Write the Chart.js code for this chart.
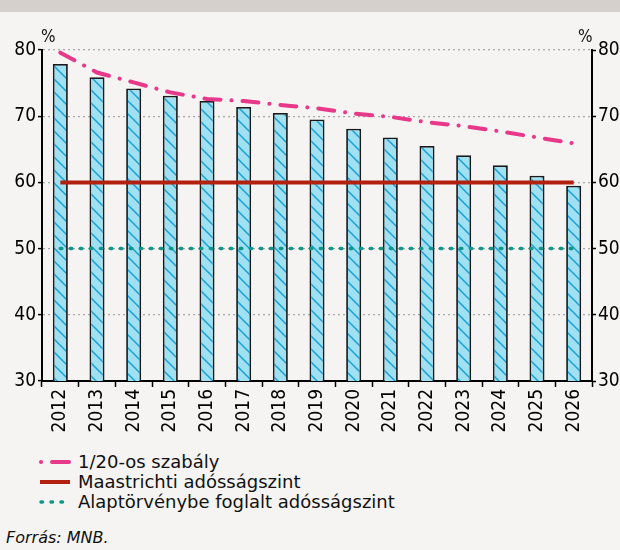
<!DOCTYPE html>
<html>
<head>
<meta charset="utf-8">
<script src="https://cdn.jsdelivr.net/npm/chart.js@4"></script>
<style>
  body { margin: 0; width: 620px; height: 550px; background: #f5f4f2; position: relative; overflow: hidden;
         font-family: "DejaVu Sans", sans-serif; color: #111; }
  #band { position: absolute; left: 0; top: 0; width: 620px; height: 12px; background: #d5d0cb; }
  #wrap { position: absolute; left: 0; top: 12px; width: 620px; height: 433px; }
  .pct { position: absolute; top: 26px; font-size: 17px; font-family: "DejaVu Sans Condensed", sans-serif; }
  #legend { position: absolute; left: 38px; top: 452px; font-size: 18px; }
  #legend div { height: 20px; line-height: 20px; display: flex; align-items: center; }
  #legend svg { margin-right: 6px; }
  #forras { position: absolute; left: 6px; top: 528px; font-size: 16px; font-style: italic; }
</style>
</head>
<body>
<div id="band"></div>
<div id="wrap"><canvas id="grafikon"></canvas></div>
<span class="pct" style="left:41px">%</span>
<span class="pct" style="left:578px">%</span>
<div id="legend">
  <div><svg width="34" height="8"><line x1="3" y1="4" x2="3.1" y2="4" stroke="#e8388a" stroke-width="4" stroke-linecap="round"/><line x1="14" y1="4" x2="31" y2="4" stroke="#e8388a" stroke-width="4" stroke-linecap="round"/></svg>1/20-os szabály</div>
  <div><svg width="34" height="8"><line x1="2" y1="4" x2="32" y2="4" stroke="#b3200f" stroke-width="4"/></svg>Maastrichti adósságszint</div>
  <div><svg width="34" height="8"><line x1="3" y1="4" x2="33" y2="4" stroke="#11968a" stroke-width="3.5" stroke-linecap="round" stroke-dasharray="1.5 8.5"/></svg>Alaptörvénybe foglalt adósságszint</div>
</div>
<div id="forras">Forrás: MNB.</div>

<script>
// adatok
const evek = ["2012", "2013", "2014", "2015", "2016", "2017", "2018", "2019", "2020", "2021", "2022", "2023", "2024", "2025", "2026"];
const adossag = [77.9, 75.9, 74.2, 73.1, 72.3, 71.4, 70.5, 69.5, 68.1, 66.8, 65.5, 64.1, 62.6, 61.0, 59.5];
const szabaly = [79.6, 76.6, 75.1, 73.6, 72.6, 72.3, 71.7, 71.2, 70.4, 69.9, 69.1, 68.5, 67.7, 66.8, 65.9];
const maastricht = [60, 60, 60, 60, 60, 60, 60, 60, 60, 60, 60, 60, 60, 60, 60];
const alaptorveny = [50, 50, 50, 50, 50, 50, 50, 50, 50, 50, 50, 50, 50, 50, 50];
const yTicks = [30, 40, 50, 60, 70, 80];

// csikos minta az oszlopokhoz
function csikos() {
  let c = document.createElement("canvas");
  c.width = 13;
  c.height = 13;
  let p = c.getContext("2d");
  p.fillStyle = "#9fe1f3";
  p.fillRect(0, 0, 13, 13);
  p.strokeStyle = "#1aa0d2";
  p.lineWidth = 1.5;
  p.beginPath();
  p.moveTo(-2, -2); p.lineTo(15, 15);
  p.moveTo(-2, 11); p.lineTo(2, 15);
  p.moveTo(11, -2); p.lineTo(15, 2);
  p.stroke();
  return p.createPattern(c, "repeat");
}

Chart.defaults.font.family = "'DejaVu Sans Condensed', 'DejaVu Sans', sans-serif";
Chart.defaults.font.size = 19;
Chart.defaults.color = "#000";

let ctx = document.getElementById("grafikon").getContext("2d");
let grafikon = new Chart(ctx, {
  type: "bar",
  data: {
    labels: evek,
    datasets: [
      {
        type: "line",
        label: "1/20-os szabály",
        data: szabaly,
        borderColor: "#e8388a",
        borderWidth: 4,
        borderDash: [16, 11, 0.1, 11],
        borderCapStyle: "round",
        pointRadius: 0,
        fill: false,
      },
      {
        type: "line",
        label: "Maastrichti adósságszint",
        data: maastricht,
        borderColor: "#b3200f",
        borderWidth: 4,
        pointRadius: 0,
        fill: false,
      },
      {
        type: "line",
        label: "Alaptörvénybe foglalt adósságszint",
        data: alaptorveny,
        borderColor: "#11968a",
        borderWidth: 3.5,
        borderDash: [1.5, 8.5],
        borderCapStyle: "round",
        pointRadius: 0,
        fill: false,
      },
      {
        label: "Adósság",
        data: adossag,
        backgroundColor: csikos(),
        borderColor: "#1a1a1a",
        borderWidth: 1.8,
        borderSkipped: false,
        barPercentage: 0.41,
        categoryPercentage: 1,
      },
    ],
  },
  options: {
    responsive: true,
    maintainAspectRatio: false,
    animation: false,
    layout: { padding: { top: 38, left: 0, right: 0, bottom: 0 } },
    plugins: { legend: { display: false }, tooltip: { enabled: false } },
    scales: {
      x: {
        grid: { offset: true, drawOnChartArea: false, tickLength: 6, tickColor: "#000", tickWidth: 1.5 },
        border: { color: "#000", width: 2 },
        ticks: { minRotation: 90, maxRotation: 90, padding: 2 },
        afterFit: (s) => { s.height = 64; },
      },
      y: {
        min: 30,
        max: 80,
        afterBuildTicks: (s) => { s.ticks = yTicks.map((v) => ({ value: v })); },
        grid: { color: "#a8a8a8", lineWidth: 1.2, tickLength: 4, tickColor: "#000", tickWidth: 1.5 },
        border: { color: "#000", width: 2, dash: [2, 3] },
        ticks: { padding: 2 },
        afterFit: (s) => { s.width = 42; },
      },
      y2: {
        position: "right",
        min: 30,
        max: 80,
        afterBuildTicks: (s) => { s.ticks = yTicks.map((v) => ({ value: v })); },
        grid: { drawOnChartArea: false, tickLength: 4, tickColor: "#000", tickWidth: 1.5 },
        border: { color: "#000", width: 2 },
        ticks: { padding: 2 },
        afterFit: (s) => { s.width = 28; },
      },
    },
  },
});
</script>
</body>
</html>
